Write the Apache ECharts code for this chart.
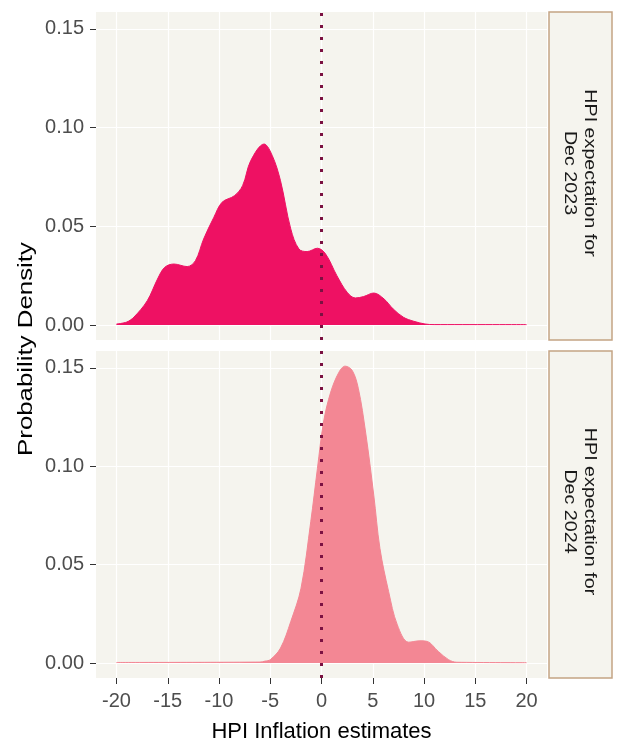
<!DOCTYPE html>
<html lang="en">
<head>
  <meta charset="utf-8">
  <title>HPI inflation expectations</title>
  <script src="https://cdn.jsdelivr.net/npm/echarts@6/dist/echarts.min.js"></script>
  <style>
    body { margin: 0; background: white; }
    #chart { width: 617px; height: 744px; }
  </style>
</head>
<body>
  <div id="chart"></div>
  <script>
    // --- Data.

    const PANEL_LABELS = ['HPI expectation for\nDec 2023', 'HPI expectation for\nDec 2024'];
    const X_TICKS = [-20, -15, -10, -5, 0, 5, 10, 15, 20];
    const Y_TICKS = [0, 0.05, 0.10, 0.15];
    const VLINE_AT = 0;

    // Density of estimates for Dec 2023, [x, density].
    const DENSITY_2023 = [
      [-20, 0.0005], [-19, 0.0015], [-18.3, 0.004], [-17, 0.0123], [-16, 0.0233],
      [-15.3, 0.0292], [-14.4, 0.0309], [-13.1, 0.0296], [-12.3, 0.0326], [-11.5, 0.0436],
      [-10.5, 0.0546], [-9.7, 0.0622], [-8.5, 0.0655], [-7.7, 0.0706], [-6.9, 0.0833],
      [-5.6, 0.0917], [-4.8, 0.0858], [-4, 0.0731], [-3, 0.0487], [-2.2, 0.0385],
      [-1.4, 0.0372], [-0.4, 0.0389], [0.4, 0.036], [1.5, 0.025], [2.5, 0.0166],
      [3.3, 0.0137], [4.1, 0.0144], [5.1, 0.0162], [6.1, 0.0132], [7, 0.0081],
      [8, 0.0039], [9, 0.0019], [10.1, 0.0005], [11, 0.0002], [20, 0.0002]
    ];

    // Density of estimates for Dec 2024, [x, density].
    const DENSITY_2024 = [
      [-20, 0.0003], [-6, 0.0005], [-5.5, 0.001], [-5, 0.0017], [-4, 0.0076],
      [-3, 0.0211], [-2, 0.038], [-1.05, 0.0718], [-0.4, 0.0988], [0.2, 0.1225],
      [0.9, 0.1377], [1.7, 0.1478], [2.3, 0.1509], [3.0, 0.1487], [3.6, 0.1394],
      [4.3, 0.1174], [5.1, 0.0853], [5.7, 0.0583], [6.55, 0.0363], [7.4, 0.0194],
      [8.5, 0.0106], [9.6, 0.0113], [10.3, 0.011], [11.4, 0.0059], [12.4, 0.0017],
      [13.2, 0.0004], [20, 0.0002]
    ];

    // --- Styling.

    const FONT = '"Liberation Sans", Arial, sans-serif';
    const PANEL_BG = '#F5F4EE';
    const STRIP_BORDER = '#C4A484';
    const FILLS = ['#EE1163', '#F38794'];
    const VLINE_COLOR = '#7B1142';

    // The reference text looks a bit taller than wide, stretch the free texts.
    const TEXT_STRETCH = 1.23;

    const GRIDS = [
      { left: 96, top: 12, width: 451, height: 328 },
      { left: 96, top: 351, width: 451, height: 327 }
    ];

    function makeXAxis(gridIndex, showLabels) {
      return {
        type: 'value', gridIndex, min: -22, max: 22,
        axisLine: { show: false, onZero: false },
        axisTick: { show: showLabels, customValues: X_TICKS, length: 6, lineStyle: { color: '#333' } },
        axisLabel: {
          show: showLabels, customValues: X_TICKS, margin: 13,
          fontFamily: FONT, fontSize: 20, color: '#4D4D4D'
        },
        splitLine: { show: true, lineStyle: { color: '#fff', width: 1.2 } },
        name: showLabels ? 'HPI Inflation estimates' : '',
        nameLocation: 'middle', nameGap: 43,
        nameTextStyle: { fontFamily: FONT, fontSize: 22, color: '#000' }
      };
    }

    function makeYAxis(gridIndex) {
      return {
        type: 'value', gridIndex, min: -0.0076, max: 0.1586,
        axisLine: { show: false, onZero: false },
        axisTick: { show: true, customValues: Y_TICKS, length: 6, lineStyle: { color: '#333' } },
        axisLabel: {
          customValues: Y_TICKS, margin: 12, formatter: v => v.toFixed(2),
          fontFamily: FONT, fontSize: 20, color: '#4D4D4D'
        },
        splitLine: { show: true, lineStyle: { color: '#fff', width: 1.2 } }
      };
    }

    function makeSeries(i, data) {
      return {
        type: 'line', xAxisIndex: i, yAxisIndex: i, data,
        smooth: 0.35, showSymbol: false, silent: true,
        lineStyle: { color: FILLS[i], width: 1 },
        areaStyle: { color: FILLS[i], opacity: 1 },
        markLine: {
          silent: true, symbol: 'none', label: { show: false },
          lineStyle: { color: VLINE_COLOR, type: [3, 9], width: 3, cap: 'butt' },
          data: [{ xAxis: VLINE_AT }]
        }
      };
    }

    // Facet strips on the right of each panel.
    function makeStrip(i) {
      const g = GRIDS[i];
      return [
        {
          type: 'rect',
          shape: { x: 549, y: g.top, width: 63, height: g.height },
          style: { fill: PANEL_BG, stroke: STRIP_BORDER, lineWidth: 1.5 }
        },
        {
          type: 'text', x: 579, y: g.top + g.height / 2 - 3,
          rotation: -Math.PI / 2, scaleX: TEXT_STRETCH,
          style: {
            text: PANEL_LABELS[i], fontFamily: FONT, fontSize: 16, lineHeight: 20,
            fill: '#1A1A1A', align: 'center', verticalAlign: 'middle'
          }
        }
      ];
    }

    const chart = echarts.init(document.getElementById('chart'));
    chart.setOption({
      backgroundColor: '#fff',
      animation: false,
      grid: GRIDS.map(g => ({ ...g, show: true, backgroundColor: PANEL_BG, borderWidth: 0 })),
      xAxis: [makeXAxis(0, false), makeXAxis(1, true)],
      yAxis: [makeYAxis(0), makeYAxis(1)],
      series: [makeSeries(0, DENSITY_2023), makeSeries(1, DENSITY_2024)],
      graphic: [
        ...makeStrip(0),
        ...makeStrip(1),
        {
          type: 'text', x: 26, y: 349, rotation: Math.PI / 2, scaleX: TEXT_STRETCH,
          style: {
            text: 'Probability Density', fontFamily: FONT, fontSize: 21,
            fill: '#000', align: 'center', verticalAlign: 'middle'
          }
        }
      ]
    });
  </script>
</body>
</html>
